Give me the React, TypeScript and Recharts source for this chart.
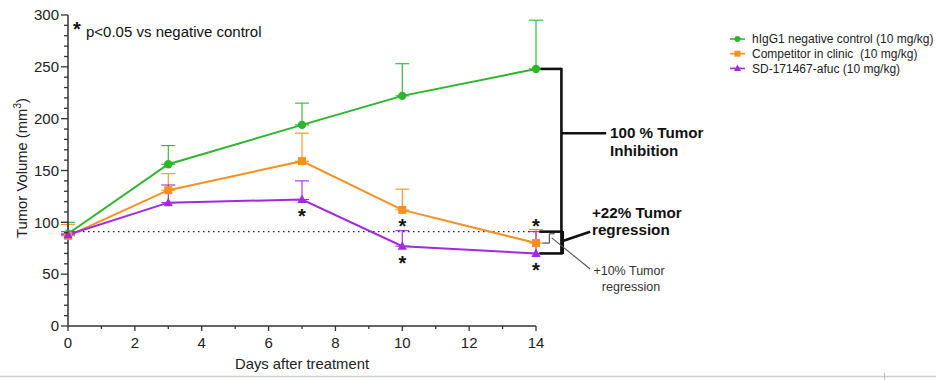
import React from 'react';
import { ComposedChart, Line, XAxis, YAxis, ErrorBar, ReferenceLine, ReferenceDot } from 'recharts';

// ---- data ----
const days = [0, 3, 7, 10, 14];
const controlMean = [89, 156, 194, 222, 248];
const controlSem = [11, 18, 21, 31, 47];
const competitorMean = [87, 131, 159, 112, 80];
const competitorSem = [11, 16, 27, 20, 13];
const sdMean = [88, 119, 122, 77, 70];
const sdSem = [3, 17, 18, 15, 21];
const seriesNames = [
  'hIgG1 negative control (10 mg/kg)',
  'Competitor in clinic  (10 mg/kg)',
  'SD-171467-afuc (10 mg/kg)',
];
const baselineVolume = 91;
const xMajorTicks = [0, 2, 4, 6, 8, 10, 12, 14];
const yMajorTicks = [0, 50, 100, 150, 200, 250, 300];
// significance (p<0.05 vs negative control): [day, series, side]
const sigMarks: { day: number; series: 'sd' | 'competitor'; side: 'above' | 'below' }[] = [
  { day: 7, series: 'sd', side: 'below' },
  { day: 10, series: 'competitor', side: 'below' },
  { day: 10, series: 'sd', side: 'below' },
  { day: 14, series: 'competitor', side: 'above' },
  { day: 14, series: 'sd', side: 'below' },
];

const GREEN = '#2db52d';
const ORANGE = '#f7901e';
const PURPLE = '#a12ae0';
const AXIS = '#333';
const FONT = '"Liberation Sans", Arial, sans-serif';

const data = days.map((d, i) => ({
  day: d,
  control: controlMean[i],
  controlErr: [0, controlSem[i]],
  competitor: competitorMean[i],
  competitorErr: [0, competitorSem[i]],
  sd: sdMean[i],
  sdErr: [0, sdSem[i]],
}));

const xTicks: number[] = [];
for (let t = 0; t <= 14; t += 1) xTicks.push(t);
const yTicks: number[] = [];
for (let t = 0; t <= 300; t += 10) yTicks.push(t);

const YTick = (props: any) => {
  const { x, y, payload } = props;
  const major = yMajorTicks.includes(payload.value);
  const len = major ? 7 : 4;
  return (
    <g>
      <line x1={x - len} x2={x} y1={y} y2={y} stroke={AXIS} strokeWidth={1.3} />
      {major && (
        <text x={x - 9} y={y + 5.3} textAnchor="end" fontSize={15} fontFamily={FONT} fill="#222">
          {payload.value}
        </text>
      )}
    </g>
  );
};

const XTick = (props: any) => {
  const { x, y, payload } = props;
  const major = xMajorTicks.includes(payload.value);
  const len = major ? 5 : 3;
  return (
    <g>
      <line x1={x} x2={x} y1={y} y2={y + len} stroke={AXIS} strokeWidth={1.3} />
      {major && (
        <text x={x} y={y + 22} textAnchor="middle" fontSize={15} fontFamily={FONT} fill="#222">
          {payload.value}
        </text>
      )}
    </g>
  );
};

const circleDot = (p: any) =>
  p.cx == null ? null : <circle key={`c${p.index}`} cx={p.cx} cy={p.cy} r={4.2} fill={GREEN} />;
const squareDot = (p: any) =>
  p.cx == null ? null : <rect key={`s${p.index}`} x={p.cx - 4} y={p.cy - 4} width={8} height={8} fill={ORANGE} />;
const triDot = (p: any) =>
  p.cx == null ? null : (
    <path key={`t${p.index}`} d={`M${p.cx},${p.cy - 5} L${p.cx + 4.6},${p.cy + 3.5} L${p.cx - 4.6},${p.cy + 3.5} Z`} fill={PURPLE} />
  );

const markerIcon = (kind: number, cx: number, cy: number, color: string) => {
  if (kind === 0) return <circle cx={cx} cy={cy} r={3} fill={color} />;
  if (kind === 1) return <rect x={cx - 3} y={cy - 3} width={6} height={6} fill={color} />;
  return <path d={`M${cx},${cy - 3.8} L${cx + 3.5},${cy + 2.6} L${cx - 3.5},${cy + 2.6} Z`} fill={color} />;
};

const star = (dy: number) => (p: any) =>
  (
    <text x={p.cx} y={p.cy + dy + 11.5} textAnchor="middle" fontSize={20} fontWeight="bold" fontFamily={FONT} fill="#111">
      *
    </text>
  );

const seg = (x1: number, y1: number, x2: number, y2: number, key: string, stroke = '#111', w = 2.6) => (
  <ReferenceLine
    key={key}
    segment={[{ x: x1, y: y1 }, { x: x2, y: y2 }]}
    stroke={stroke}
    strokeWidth={w}
    ifOverflow="visible"
  />
);

export default function App() {
  const colors = [GREEN, ORANGE, PURPLE];
  const greenEnd = controlMean[4];
  const sdEnd = sdMean[4];
  const compEnd = competitorMean[4];
  return (
    <div style={{ position: 'absolute', left: 0, top: 0, width: 936, height: 380, background: '#fff' }}>
      <ComposedChart
        width={936}
        height={380}
        data={data}
        margin={{ top: 15, right: 400, bottom: 24, left: 8 }}
      >
        <XAxis
          dataKey="day"
          type="number"
          domain={[0, 14]}
          ticks={xTicks}
          interval={0}
          tickSize={0}
          tickMargin={0}
          tickLine={false}
          tick={<XTick />}
          height={30}
          axisLine={{ stroke: AXIS, strokeWidth: 1.5 }}
        />
        <YAxis
          type="number"
          domain={[0, 300]}
          ticks={yTicks}
          interval={0}
          tickSize={0}
          tickMargin={0}
          tickLine={false}
          tick={<YTick />}
          width={60}
          axisLine={{ stroke: AXIS, strokeWidth: 1.5 }}
        />
        <ReferenceLine y={baselineVolume} stroke="#222" strokeWidth={1.3} strokeDasharray="1.5 3.5" />
        <Line
          dataKey="control"
          name={seriesNames[0]}
          stroke={GREEN}
          strokeWidth={2}
          dot={circleDot}
          activeDot={false}
          isAnimationActive={false}
        >
          <ErrorBar dataKey="controlErr" direction="y" width={7} stroke={GREEN} strokeWidth={1.1} />
        </Line>
        <Line
          dataKey="competitor"
          name={seriesNames[1]}
          stroke={ORANGE}
          strokeWidth={2}
          dot={squareDot}
          activeDot={false}
          isAnimationActive={false}
        >
          <ErrorBar dataKey="competitorErr" direction="y" width={7} stroke={ORANGE} strokeWidth={1.1} />
        </Line>
        <Line
          dataKey="sd"
          name={seriesNames[2]}
          stroke={PURPLE}
          strokeWidth={2}
          dot={triDot}
          activeDot={false}
          isAnimationActive={false}
        >
          <ErrorBar dataKey="sdErr" direction="y" width={7} stroke={PURPLE} strokeWidth={1.1} />
        </Line>

        {sigMarks.map((m, k) => {
          const i = days.indexOf(m.day);
          const mean = m.series === 'sd' ? sdMean[i] : competitorMean[i];
          const err = m.series === 'sd' ? sdSem[i] : competitorSem[i];
          const yv = m.side === 'above' ? mean + err : mean;
          const dy = m.side === 'above' ? -8 : 12;
          return <ReferenceDot key={`sig${k}`} x={m.day} y={yv} r={0} shape={star(dy)} ifOverflow="visible" />;
        })}

        {/* 100% inhibition bracket */}
        {seg(14.13, greenEnd, 14.76, greenEnd, 'b1')}
        {seg(14.76, greenEnd + 1, 14.76, sdEnd - 0.6, 'b2')}
        {seg(14.76, 186, 16.1, 186, 'b3')}
        {/* +22% regression box */}
        {seg(14.1, baselineVolume, 14.8, baselineVolume, 'b4')}
        {seg(14.1, sdEnd, 14.8, sdEnd, 'b5')}
        {seg(14.8, baselineVolume + 0.6, 14.8, sdEnd - 0.6, 'b6')}
        {seg(14.8, 82, 15.62, 91, 'b7')}
        {/* +10% regression (grey) */}
        {seg(14.4, 89, 14.56, 89, 'g1', '#555', 1.2)}
        {seg(14.4, 89, 14.4, compEnd, 'g2', '#555', 1.2)}
        {seg(14.2, compEnd, 14.4, compEnd, 'g3', '#555', 1.2)}
        {seg(14.47, 85, 15.62, 55, 'g4', '#555', 1.1)}
      </ComposedChart>

      <svg
        width={936}
        height={380}
        style={{ position: 'absolute', left: 0, top: 0, pointerEvents: 'none' }}
        fontFamily={FONT}
      >
        {/* significance note */}
        <text x={77} y={36} textAnchor="middle" fontSize={20} fontWeight="bold" fill="#111">*</text>
        <text x={86} y={37} fontSize={15} fill="#111">p&lt;0.05 vs negative control</text>

        {/* axis titles */}
        <text x={302} y={369} textAnchor="middle" fontSize={14.8} fill="#222">Days after treatment</text>
        <text x={27} y={168} textAnchor="middle" fontSize={14.8} fill="#222" transform="rotate(-90 27 168)">
          Tumor Volume (mm<tspan dy={-6} fontSize={10}>3</tspan><tspan dy={6}>)</tspan>
        </text>

        {/* legend */}
        {seriesNames.map((n, i) => {
          const cy = 39 + i * 14.7;
          return (
            <g key={n}>
              <line x1={730} x2={745} y1={cy} y2={cy} stroke={colors[i]} strokeWidth={1.6} />
              {markerIcon(i, 737.5, cy, colors[i])}
              <text x={752} y={cy + 4.2} fontSize={12} fill="#222" style={{ whiteSpace: 'pre' }}>
                {n}
              </text>
            </g>
          );
        })}

        {/* bracket labels */}
        <text x={610} y={138} fontSize={15.2} fontWeight="bold" fill="#111">100 % Tumor</text>
        <text x={610} y={156} fontSize={15.2} fontWeight="bold" fill="#111">Inhibition</text>
        <text x={592} y={218} fontSize={15.2} fontWeight="bold" fill="#111">+22% Tumor</text>
        <text x={592} y={235} fontSize={15.2} fontWeight="bold" fill="#111">regression</text>
        <text x={629} y={275} textAnchor="middle" fontSize={12.5} fill="#333">+10% Tumor</text>
        <text x={631} y={291} textAnchor="middle" fontSize={12.5} fill="#333">regression</text>

        {/* page edge */}
        <line x1={0} x2={936} y1={376.5} y2={376.5} stroke="#cfcfcf" strokeWidth={1.5} />
        <line x1={884.5} x2={884.5} y1={373} y2={380} stroke="#bdbdbd" strokeWidth={1} />
      </svg>
    </div>
  );
}
